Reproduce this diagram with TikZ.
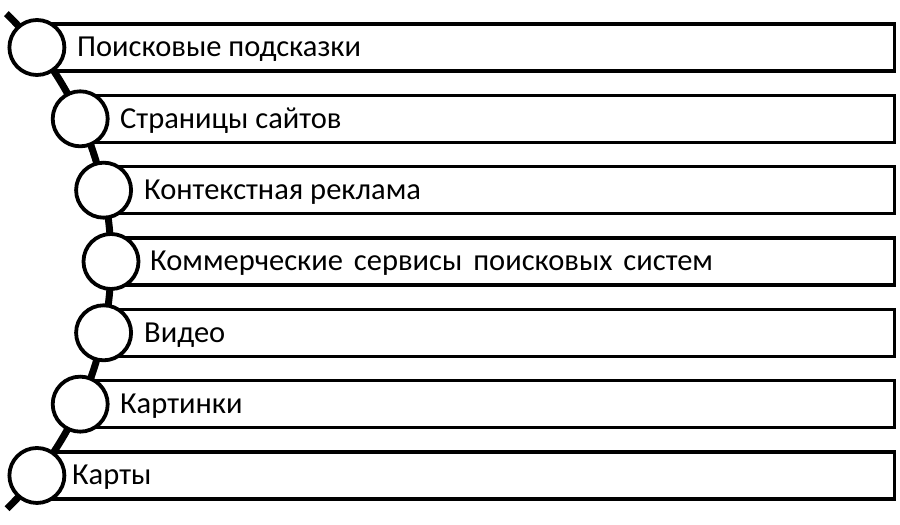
\documentclass[tikz,border=0pt]{standalone}
\usepackage{fontspec}
\setmainfont{Carlito}
\usetikzlibrary{calc}
\begin{document}
\begin{tikzpicture}[x=1pt,y=1pt,
  bar/.style={draw=black,line width=3.5pt,fill=white,rectangle,anchor=west,minimum height=47pt,inner sep=0pt},
  bead/.style={draw=black,line width=3.8pt,fill=white,circle,minimum size=55pt,inner sep=0pt},
  lbl/.style={anchor=base west,inner sep=0pt,font=\fontsize{30.5}{36}\selectfont}]
\fill[white] (0,0) rectangle (900,525);
\useasboundingbox (0,0) rectangle (900,525);
% curved spine
\coordinate (ac) at (-235,263.5);
\coordinate (atop) at ($(ac)+(45.76:346)$);
\draw[line width=7pt] (atop) arc[start angle=45.76,end angle=-45.6,radius=346];
% rows
\foreach \i/\cx/\tx/\txt in {0/36.9/77/{Поисковые подсказки},1/80.2/120/{Страницы сайтов},2/103.6/144/{Контекстная реклама},3/111/150/{Коммерческие\hspace{10.9pt}сервисы\hspace{10.9pt}поисковых\hspace{10.9pt}систем},4/103.6/144/{Видео},5/80.2/120/{Картинки},6/36.9/72/{Карты}}{
  \pgfmathsetmacro{\yc}{477.5-71.33*\i}
  \pgfmathsetmacro{\w}{892.5-\cx}
  \node[bar,minimum width=\w pt] (r\i) at (\cx,\yc) {};
  \node[bead] (c\i) at (\cx,\yc) {};
  \node[lbl] (t\i) at (\tx,\yc-9.5) {\txt};
}
\end{tikzpicture}
\end{document}
